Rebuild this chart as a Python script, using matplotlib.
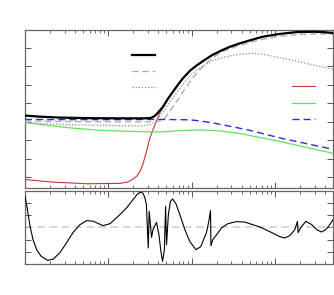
import numpy as np
import matplotlib
matplotlib.use("Agg")
import matplotlib.pyplot as plt

# top panel curves (x on log axis, y in arbitrary units)
x_tot = [1, 1.51, 2.63, 6.03, 13.8, 27.5, 32.5, 36.3, 39.4, 45.3, 52.0, 59.7, 68.6, 78.7,
         95.5, 116, 145, 180, 231, 288, 380, 530, 718, 1148, 1837, 3020, 3981, 5000]
y_tot = [3.33, 3.27, 3.22, 3.19, 3.18, 3.18, 3.20, 3.31, 3.48, 3.80, 4.24, 4.62, 5.00, 5.35,
         5.76, 6.06, 6.36, 6.63, 6.87, 7.06, 7.25, 7.44, 7.61, 7.76, 7.86, 7.88, 7.85, 7.81]

x_dash = [1, 2.63, 13.8, 36.3, 45.3, 52.0, 59.7, 68.6, 78.7, 95.5, 116, 145, 180, 231,
          288, 380, 530, 718, 1148, 1837, 3020, 5000]
y_dash = [3.04, 3.01, 2.99, 2.99, 3.07, 3.42, 3.80, 4.18, 4.62, 5.16, 5.65, 6.11, 6.47, 6.79,
          6.95, 7.14, 7.33, 7.47, 7.63, 7.72, 7.76, 7.75]

x_dot = [1, 2.63, 7.94, 24.0, 31.6, 37.6, 45.3, 55.0, 68.6, 83.2, 95.5, 116, 145, 180,
         231, 288, 380, 545, 759, 1148, 1837, 2858, 5000]
y_dot = [2.93, 2.85, 2.80, 2.77, 2.82, 3.04, 3.48, 4.07, 4.67, 5.16, 5.49, 5.81, 6.08, 6.30,
         6.47, 6.57, 6.66, 6.71, 6.63, 6.47, 6.28, 6.08, 5.84]

x_red = [1, 2.0, 5.55, 13.8, 17.0, 19.5, 22.1, 24.0, 26.1, 29.1, 31.6, 36.3, 41.7, 47.9,
         52.0, 59.7, 68.6, 78.7, 95.5, 116, 145, 180, 231, 288, 380, 530, 718, 1148,
         1837, 3020, 3981, 5000]
y_red = [-0.14, -0.27, -0.37, -0.35, -0.28, -0.14, 0.05, 0.30, 0.70, 1.47, 2.12, 2.82, 3.48, 3.94,
         4.24, 4.62, 5.00, 5.35, 5.76, 6.06, 6.36, 6.63, 6.87, 7.06, 7.25, 7.44, 7.61, 7.76,
         7.86, 7.88, 7.85, 7.81]

x_green = [1, 1.74, 3.47, 7.94, 18.2, 41.7, 72.4, 126, 219, 380, 661, 1148, 1995, 3467, 5000]
y_green = [2.96, 2.82, 2.66, 2.53, 2.47, 2.44, 2.51, 2.55, 2.50, 2.36, 2.14, 1.93, 1.68, 1.44, 1.28]

x_blue = [1, 2.63, 13.8, 41.7, 95.5, 126, 191, 313, 501, 780, 1148, 1837, 3020, 5000]
y_blue = [3.12, 3.11, 3.11, 3.12, 3.10, 3.04, 2.91, 2.72, 2.53, 2.31, 2.12, 1.92, 1.71, 1.50]

# bottom panel residual
x_res = [1, 1.06, 1.15, 1.25, 1.38, 1.56, 1.87, 2.17, 2.63, 3.10, 3.77, 4.57, 5.50, 6.55,
         8.63, 10.5, 13.8, 16.7, 19.8, 22.1, 24.0, 26.1, 27.5, 28.7, 30.2, 31.0, 33.1, 34.4,
         38.0, 40.6, 42.9, 44.9, 47.2, 48.8, 50.1, 52.7, 55.7, 59.2, 64.9, 72.4, 83.2, 95.5,
         113, 129, 151, 161, 169, 171, 180, 200, 231, 273, 347, 437, 661, 920, 1148, 1318,
         1514, 1738, 1871, 1905, 2051, 2355, 2780, 3192, 3631, 4093, 4571, 5000]
y_res = [2.54, 1.61, 0.08, -1.01, -1.83, -2.36, -2.70, -2.61, -2.07, -1.34, -0.43, 0.22, 0.55, 0.51,
         0.14, 0.30, 1.04, 1.61, 2.27, 2.68, 2.87, 2.80, 2.43, 1.86, -1.69, 1.31, -0.82, -0.19,
         0.41, -0.60, -1.99, -2.79, -1.83, 1.72, -1.42, 1.04, 2.11, 2.33, 1.94, 1.04, -0.19, -1.17,
         -1.83, -1.58, -0.43, 0.47, 1.37, -1.50, -1.01, -0.60, -0.02, 0.30, 0.47, 0.43, 0.03, -0.43, -0.76, -0.87,
         -0.68, -0.19, 0.49, -0.43, -0.02, 0.49, 0.22, -0.19, -0.38, -0.19, 0.22, 0.63]

W, H = 334, 295
fig = plt.figure(figsize=(W / 100, H / 100), dpi=100)

# pixel boxes of the two panels
ax1 = fig.add_axes([25 / W, 1 - 188 / H, 308 / W, 158.5 / H])
ax2 = fig.add_axes([25 / W, 1 - 264 / H, 308 / W, 73.3 / H])

l_tot, = ax1.plot(x_tot, y_tot, color='black', lw=1.6, zorder=5)
l_dash, = ax1.plot(x_dash, y_dash, color='#a8a8a8', lw=0.9, dashes=(5, 3), zorder=4)
l_dot, = ax1.plot(x_dot, y_dot, color='#8c8c8c', lw=0.9, dashes=(1, 1.5), zorder=4)
l_red, = ax1.plot(x_red, y_red, color='#cc3333', lw=0.8, zorder=3)
l_green, = ax1.plot(x_green, y_green, color='#66e060', lw=0.9, zorder=3)
l_blue, = ax1.plot(x_blue, y_blue, color='#2b2bdd', lw=1.0, dashes=(5, 3), zorder=4)

ax1.set_ylim(-0.6, 8.0)
ax1.set_yticks(np.arange(0, 9))

leg1 = ax1.legend([l_tot, l_dash, l_dot], ['', '', ''], loc='upper left',
                  bbox_to_anchor=(0.347, 0.864), frameon=False, fontsize=8,
                  handlelength=2.07, handletextpad=0, borderpad=0, borderaxespad=0,
                  labelspacing=0.55)
ax1.add_artist(leg1)
ax1.legend([l_red, l_green, l_blue], ['', '', ''], loc='upper left',
           bbox_to_anchor=(0.867, 0.667), frameon=False, fontsize=8,
           handlelength=2.07, handletextpad=0, borderpad=0, borderaxespad=0,
           labelspacing=0.55)

ax2.plot(x_res, y_res, color='black', lw=0.8, zorder=3)
ax2.axhline(0, color='#cccccc', lw=1.1, dashes=(5, 3), zorder=2)
ax2.set_ylim(-3, 3)
ax2.set_yticks([-2, -1, 0, 1, 2])

for ax in (ax1, ax2):
    ax.set_xscale('log')
    ax.set_xlim(1, 5000)
    ax.tick_params(which='both', direction='in', top=True, right=True,
                   labelbottom=False, labelleft=False, color='#555555')
    ax.tick_params(which='major', length=4, width=0.7)
    ax.tick_params(which='minor', length=2, width=0.6)
    ax.tick_params(axis='y', which='minor', left=False, right=False)
    for s in ax.spines.values():
        s.set_color('#666666')
        s.set_linewidth(0.9)

fig.savefig('out.png', dpi=100)
